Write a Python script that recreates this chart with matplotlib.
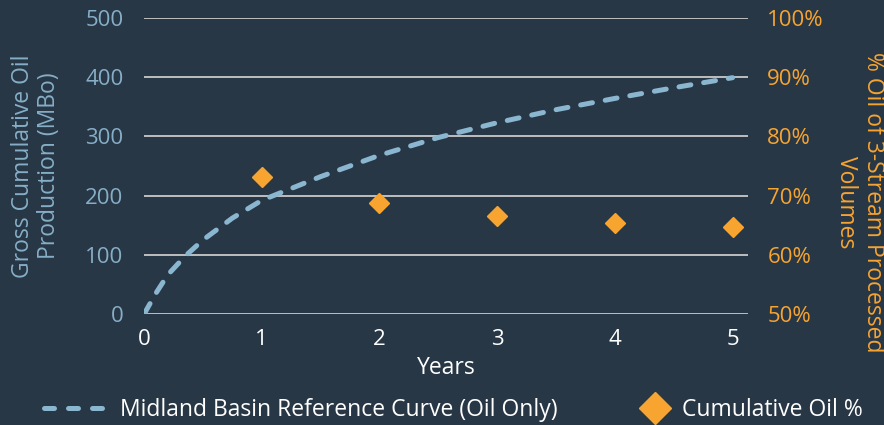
import matplotlib.pyplot as plt
from matplotlib.lines import Line2D

# data
curve_years = [0, 0.1, 0.2, 0.35, 0.5, 0.75, 1, 1.5, 2, 2.5, 3, 3.5, 4, 4.5, 5]
curve_mbo = [0, 35, 66, 98, 125, 162, 192, 232, 268, 298, 323, 345, 364, 382, 399]

pct_years = [1, 2, 3, 4, 5]
pct_oil = [73.2, 68.7, 66.6, 65.4, 64.7]

left_ticks = [0, 100, 200, 300, 400, 500]
right_ticks = [50, 60, 70, 80, 90, 100]
x_ticks = [0, 1, 2, 3, 4, 5]

bg = '#283746'
blue_txt = '#86aec6'
curve_col = '#8ab6cf'
orange = '#f7a430'
grid_col = '#c9c9c9'

plt.rcParams['font.family'] = ['Open Sans', 'DejaVu Sans']

fig = plt.figure(figsize=(8.84, 4.25), dpi=100, facecolor=bg)
ax = fig.add_axes([0.163, 0.261, 0.683, 0.697])
ax.set_facecolor(bg)
ax2 = ax.twinx()

ax.plot(curve_years, curve_mbo, color=curve_col, lw=3.6,
        dashes=(2.4, 2.6), dash_capstyle='round', zorder=3)
ax2.plot(pct_years, pct_oil, ls='none', marker='D', ms=10.5,
         color=orange, zorder=4)

ax.set_xlim(0, 5.13)
ax.set_ylim(0, 500)
ax2.set_ylim(50, 100)

ax.set_yticks(left_ticks)
ax.set_xticks(x_ticks)
ax2.set_yticks(right_ticks)
ax2.set_yticklabels([f'{t}%' for t in right_ticks])

ax.grid(axis='y', color=grid_col, lw=1.3)
ax.set_axisbelow(True)
for a in (ax, ax2):
    for s in a.spines.values():
        s.set_visible(False)

ax.tick_params(axis='y', length=0, pad=15, labelsize=16, labelcolor=blue_txt)
ax.tick_params(axis='x', length=0, pad=11, labelsize=16, labelcolor='white')
ax2.tick_params(axis='y', length=0, pad=14, labelsize=16, labelcolor=orange)

ax.set_xlabel('Years', color='white', fontsize=16.5, labelpad=4)
ax.set_ylabel('Gross Cumulative Oil\nProduction (MBo)', color=blue_txt,
              fontsize=16.5, linespacing=1.15, va='center')
ax.yaxis.set_label_coords(-0.179, 0.5)
ax2.set_ylabel('% Oil of 3-Stream Processed\nVolumes', color=orange,
               fontsize=16.5, rotation=270, linespacing=1.2, va='center')
ax2.yaxis.set_label_coords(1.185, 0.378)

# legend: two separate entries so each sits where the reference puts it
h_curve = Line2D([], [], color=curve_col, lw=3.6, dashes=(2.0, 2.8),
                 dash_capstyle='round')
h_pct = Line2D([], [], ls='none', marker='D', ms=16, color=orange)
fig.legend([h_curve], ['Midland Basin Reference Curve (Oil Only)'],
           loc='center left', bbox_to_anchor=(0.05, 0.035), frameon=False,
           fontsize=16.5, labelcolor='white', handlelength=2.75,
           handletextpad=0.55, borderpad=0, borderaxespad=0)
fig.legend([h_pct], ['Cumulative Oil %'],
           loc='center left', bbox_to_anchor=(0.722, 0.035), frameon=False,
           fontsize=16.5, labelcolor='white', handlelength=1.5,
           handletextpad=0.4, borderpad=0, borderaxespad=0)

fig.savefig('out.png', dpi=100, facecolor=bg)
